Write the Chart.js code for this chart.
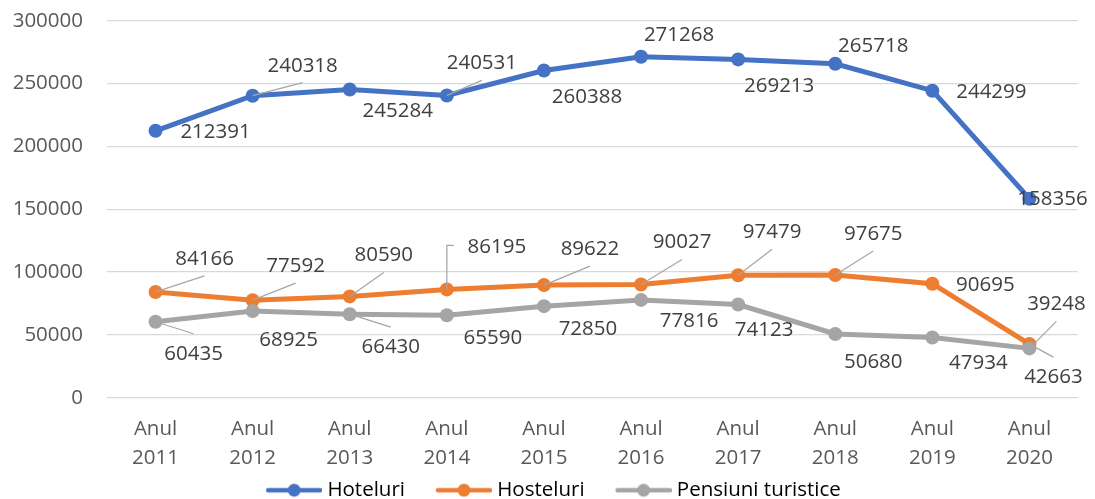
<!DOCTYPE html>
<html>
<head>
<meta charset="utf-8">
<script src="https://cdn.jsdelivr.net/npm/chart.js@4/dist/chart.umd.min.js"></script>
<style>
  body { margin: 0; background: #fff; }
  #wrap { width: 1095px; height: 499px; }
</style>
</head>
<body>
<div id="wrap"><canvas id="chart" width="1095" height="499"></canvas></div>
<script>
// Number of accommodation units per year, by type
const years = [2011, 2012, 2013, 2014, 2015, 2016, 2017, 2018, 2019, 2020]
const hoteluri = [212391, 240318, 245284, 240531, 260388, 271268, 269213, 265718, 244299, 158356]
const hosteluri = [84166, 77592, 80590, 86195, 89622, 90027, 97479, 97675, 90695, 42663]
const pensiuni = [60435, 68925, 66430, 65590, 72850, 77816, 74123, 50680, 47934, 39248]
const yTicks = [0, 50000, 100000, 150000, 200000, 250000, 300000]

const FONT = '"Open Sans", "Liberation Sans", sans-serif'
const FONT_SIZE = 20.5

// label offset from its point [dx, dy, leader] ; leader: 0 none, 1 straight, 2 elbow
const labelPlacement = [
    [[60, 1, 0], [50, -30, 1], [48, 22, 0], [35, -32, 1], [43, 27, 0],
     [38, -22, 0], [41, 27, 0], [38, -18, 0], [59, 1, 0], [23, 0, 0]],
    [[49, -33, 1], [43, -34, 1], [34, -41, 1], [50, -42, 2], [46, -36, 1],
     [41, -42, 1], [34, -43, 1], [38, -41, 1], [53, 1, 0], [24, 33, 1]],
    [[38, 32, 1], [36, 29, 0], [41, 33, 1], [46, 23, 0], [44, 23, 0],
     [48, 21, 0], [26, 26, 0], [38, 28, 0], [46, 26, 0], [27, -44, 1]]
]

// small line+marker picture used as legend symbol
function legendIcon(color){
    const c = document.createElement('canvas')
    c.width = 90
    c.height = 16
    const g = c.getContext('2d')
    g.strokeStyle = color
    g.lineWidth = 4.5
    g.lineCap = 'round'
    g.beginPath()
    g.moveTo(36, 8)
    g.lineTo(88, 8)
    g.stroke()
    g.fillStyle = color
    g.beginPath()
    g.arc(62, 8, 6.5, 0, Math.PI * 2)
    g.fill()
    return c
}

const valueLabels = {
    id: 'valueLabels',
    afterDatasetsDraw(chart){
        const ctx = chart.ctx
        ctx.save()
        ctx.font = FONT_SIZE + 'px ' + FONT
        ctx.textAlign = 'center'
        ctx.textBaseline = 'middle'
        chart.data.datasets.forEach((ds, di) => {
            const meta = chart.getDatasetMeta(di)
            meta.data.forEach((pt, i) => {
                const [dx, dy, leader] = labelPlacement[di][i]
                const lx = pt.x + dx
                const ly = pt.y + dy
                if (leader) {
                    ctx.strokeStyle = '#A6A6A6'
                    ctx.lineWidth = 1.25
                    ctx.beginPath()
                    ctx.moveTo(pt.x, pt.y)
                    if (leader === 2) {
                        ctx.lineTo(pt.x, ly - 2)
                        ctx.lineTo(pt.x + 7, ly - 2)
                    } else {
                        ctx.lineTo(lx, ly + (dy < 0 ? 17 : -20))
                    }
                    ctx.stroke()
                }
                ctx.fillStyle = '#404040'
                ctx.fillText(String(ds.data[i]), lx, ly)
            })
        })
        ctx.restore()
    }
}

function series(label, data, color, order){
    return {
        label: label,
        data: data,
        borderColor: color,
        backgroundColor: color,
        borderWidth: 5,
        pointRadius: 7,
        pointHoverRadius: 7,
        pointBorderWidth: 0,
        pointBackgroundColor: color,
        tension: 0,
        order: order
    }
}

const data = {
    labels: years.map(y => ['Anul', String(y)]),
    datasets: [
        series('Hoteluri', hoteluri, '#4472C4', 3),
        series('Hosteluri', hosteluri, '#ED7D31', 2),
        series('Pensiuni turistice', pensiuni, '#A5A5A5', 1)
    ]
}

const options = {
    responsive: false,
    animation: false,
    layout: { padding: { top: 20.7, right: 17, bottom: 0, left: 0 } },
    plugins: {
        tooltip: { enabled: false },
        legend: {
            position: 'bottom',
            maxHeight: 21,
            labels: {
                usePointStyle: true,
                pointStyleWidth: 80,
                padding: 2,
                color: '#595959',
                font: { family: FONT, size: FONT_SIZE },
                generateLabels: (chart) => chart.data.datasets.map((ds, i) => ({
                    text: ds.label,
                    pointStyle: legendIcon(ds.borderColor),
                    fillStyle: ds.borderColor,
                    strokeStyle: ds.borderColor,
                    lineWidth: 0,
                    hidden: false,
                    datasetIndex: i
                }))
            }
        }
    },
    scales: {
        x: {
            offset: true,
            grid: { display: false, drawTicks: false },
            border: { display: false },
            ticks: {
                color: '#595959',
                padding: 17,
                maxRotation: 0,
                font: { family: FONT, size: FONT_SIZE, lineHeight: 1.415 }
            },
            afterFit: (scale) => { scale.height = 80.3 }
        },
        y: {
            min: 0,
            max: 300000,
            afterBuildTicks: (scale) => { scale.ticks = yTicks.map(v => ({ value: v })) },
            grid: { color: '#D9D9D9', lineWidth: 1.3, drawTicks: false },
            border: { display: false },
            ticks: {
                color: '#595959',
                padding: 24,
                font: { family: FONT, size: FONT_SIZE },
                callback: (v) => String(v)
            },
            afterFit: (scale) => {
                scale.width = 107
                scale.paddingTop = 0
            }
        }
    }
}

new Chart(document.getElementById('chart'), {
    type: 'line',
    data: data,
    options: options,
    plugins: [valueLabels]
})
</script>
</body>
</html>
